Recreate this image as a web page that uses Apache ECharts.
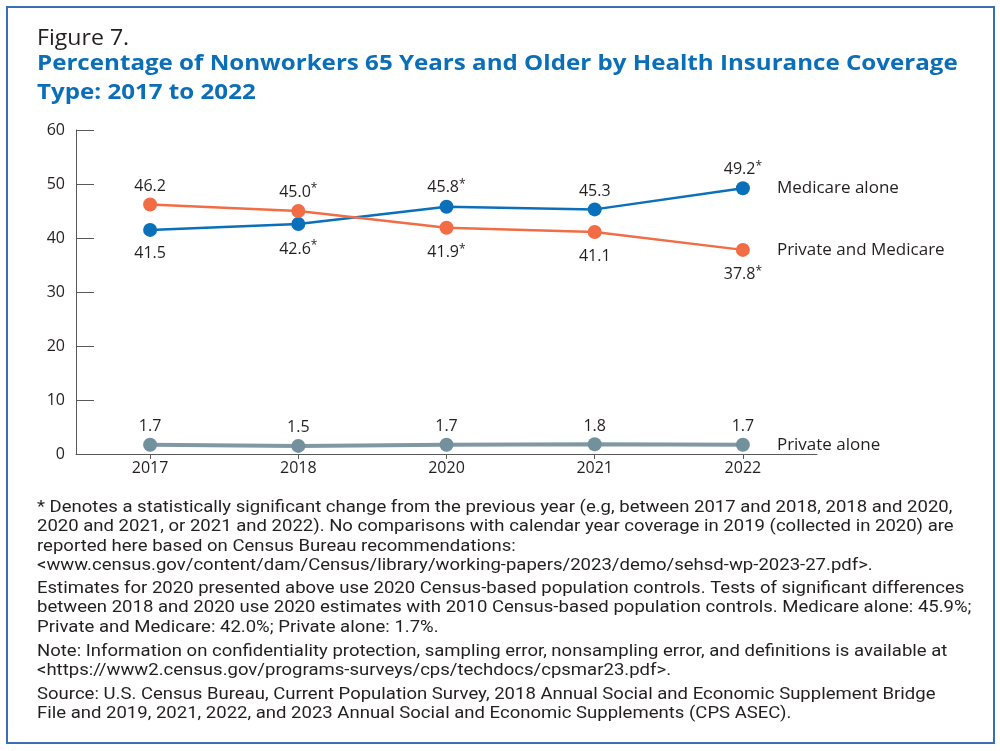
<!DOCTYPE html>
<html>
<head>
<meta charset="utf-8">
<script src="https://cdn.jsdelivr.net/npm/echarts@6/dist/echarts.min.js"></script>
<style>
html,body{margin:0;padding:0;background:#fff;}
#chart{width:1000px;height:751px;}
</style>
</head>
<body>
<div id="chart"></div>
<script>
const years = ['2017', '2018', '2020', '2021', '2022'];
const medicareAlone = [41.5, 42.6, 45.8, 45.3, 49.2];
const medicareAloneSig = [false, true, true, false, true];
const medicareAlonePos = ['bottom', 'bottom', 'top', 'top', 'top'];
const privateMedicare = [46.2, 45.0, 41.9, 41.1, 37.8];
const privateMedicareSig = [false, true, true, false, true];
const privateMedicarePos = ['top', 'top', 'bottom', 'bottom', 'bottom'];
const privateAlone = [1.7, 1.5, 1.7, 1.8, 1.7];
const privateAloneSig = [false, false, false, false, false];
const yTicks = [0, 10, 20, 30, 40, 50, 60];

const figureLabel = 'Figure 7.';
const titleLines = [
  'Percentage of Nonworkers 65 Years and Older by Health Insurance Coverage',
  'Type: 2017 to 2022'
];
const noteLines = [
  ['* Denotes a statistically significant change from the previous year (e.g, between 2017 and 2018, 2018 and 2020,', 508],
  ['2020 and 2021, or 2021 and 2022). No comparisons with calendar year coverage in 2019 (collected in 2020) are', 527],
  ['reported here based on Census Bureau recommendations:', 547],
  ['<www.census.gov/content/dam/Census/library/working-papers/2023/demo/sehsd-wp-2023-27.pdf>.', 566],
  ['Estimates for 2020 presented above use 2020 Census-based population controls. Tests of significant differences', 589],
  ['between 2018 and 2020 use 2020 estimates with 2010 Census-based population controls. Medicare alone: 45.9%;', 608],
  ['Private and Medicare: 42.0%; Private alone: 1.7%.', 628],
  ['Note: Information on confidentiality protection, sampling error, nonsampling error, and definitions is available at', 652],
  ['<https://www2.census.gov/programs-surveys/cps/techdocs/cpsmar23.pdf>.', 671],
  ['Source: U.S. Census Bureau, Current Population Survey, 2018 Annual Social and Economic Supplement Bridge', 695],
  ['File and 2019, 2021, 2022, and 2023 Annual Social and Economic Supplements (CPS ASEC).', 714]
];

const FONT = '"Open Sans", "DejaVu Sans", sans-serif';
const NOTE_FONT = 'Roboto, "Liberation Sans", sans-serif';

function buildData(values, sig, pos) {
  return values.map((v, i) => {
    const p = pos ? pos[i] : 'top';
    return {
      value: v,
      label: {
        position: p,
        distance: p === 'top' ? 3 : 9,
        formatter: v.toFixed(1) + (sig[i] ? '{s|*}' : '')
      }
    };
  });
}

const labelBase = {
  show: true,
  fontFamily: FONT,
  fontSize: 16,
  color: '#231f20',
  rich: {
    s: { fontFamily: FONT, fontSize: 12, color: '#231f20', verticalAlign: 'top', padding: [0, 0, 6, 0] }
  }
};

function makeSeries(name, values, sig, pos, color, markerColor, lineWidth) {
  return {
    name: name,
    type: 'line',
    data: buildData(values, sig, pos),
    symbol: 'circle',
    symbolSize: 14,
    lineStyle: { color: color, width: lineWidth },
    itemStyle: { color: markerColor },
    label: labelBase,
    endLabel: {
      show: true,
      formatter: name,
      distance: 34,
      fontFamily: FONT,
      fontSize: 17,
      color: '#231f20'
    },
    emphasis: { disabled: true },
    animation: false
  };
}

const graphics = [
  { type: 'rect', shape: { x: 7, y: 7, width: 987, height: 736 }, style: { fill: 'none', stroke: '#3a70b3', lineWidth: 2 } },
  { type: 'text', x: 37, y: 29, scaleX: 1.1, style: { text: figureLabel, fontFamily: FONT, fontSize: 21, fill: '#231f20', textVerticalAlign: 'top' } },
  { type: 'text', x: 37, y: 53, scaleX: 1.097, style: { text: titleLines[0], fontFamily: FONT, fontSize: 22, fontWeight: 'bold', fill: '#0a6fb8', textVerticalAlign: 'top' } },
  { type: 'text', x: 37, y: 82, scaleX: 1.097, style: { text: titleLines[1], fontFamily: FONT, fontSize: 22, fontWeight: 'bold', fill: '#0a6fb8', textVerticalAlign: 'top' } }
];
noteLines.forEach(([t, y]) => {
  graphics.push({ type: 'text', x: 37, y: y, scaleX: 1.09, style: { text: t, fontFamily: NOTE_FONT, fontSize: 17, fill: '#231f20', textVerticalAlign: 'middle' } });
});

const chart = echarts.init(document.getElementById('chart'), null, { renderer: 'canvas' });
chart.setOption({
  backgroundColor: '#fff',
  animation: false,
  grid: { left: 76, right: 183, top: 130, bottom: 297, containLabel: false },
  xAxis: {
    type: 'category',
    data: years,
    boundaryGap: true,
    axisLine: { lineStyle: { color: '#595959', width: 1 } },
    axisTick: { show: true, alignWithLabel: true, length: 5, lineStyle: { color: '#595959' } },
    axisLabel: { fontFamily: FONT, fontSize: 16, color: '#231f20', margin: 6 }
  },
  yAxis: {
    type: 'value',
    min: yTicks[0],
    max: yTicks[yTicks.length - 1],
    interval: 10,
    splitLine: { show: false },
    axisLine: { show: true, lineStyle: { color: '#595959', width: 1 } },
    axisTick: { show: true, inside: true, length: 18, lineStyle: { color: '#595959' } },
    axisLabel: { fontFamily: FONT, fontSize: 16, color: '#231f20', margin: 11 }
  },
  series: [
    makeSeries('Medicare alone', medicareAlone, medicareAloneSig, medicareAlonePos, '#0a70b9', '#0a70b9', 2.5),
    makeSeries('Private and Medicare', privateMedicare, privateMedicareSig, privateMedicarePos, '#f26c45', '#f26c45', 2.5),
    makeSeries('Private alone', privateAlone, privateAloneSig, null, '#8098a4', '#73909d', 4)
  ],
  graphic: graphics
});
</script>
</body>
</html>
